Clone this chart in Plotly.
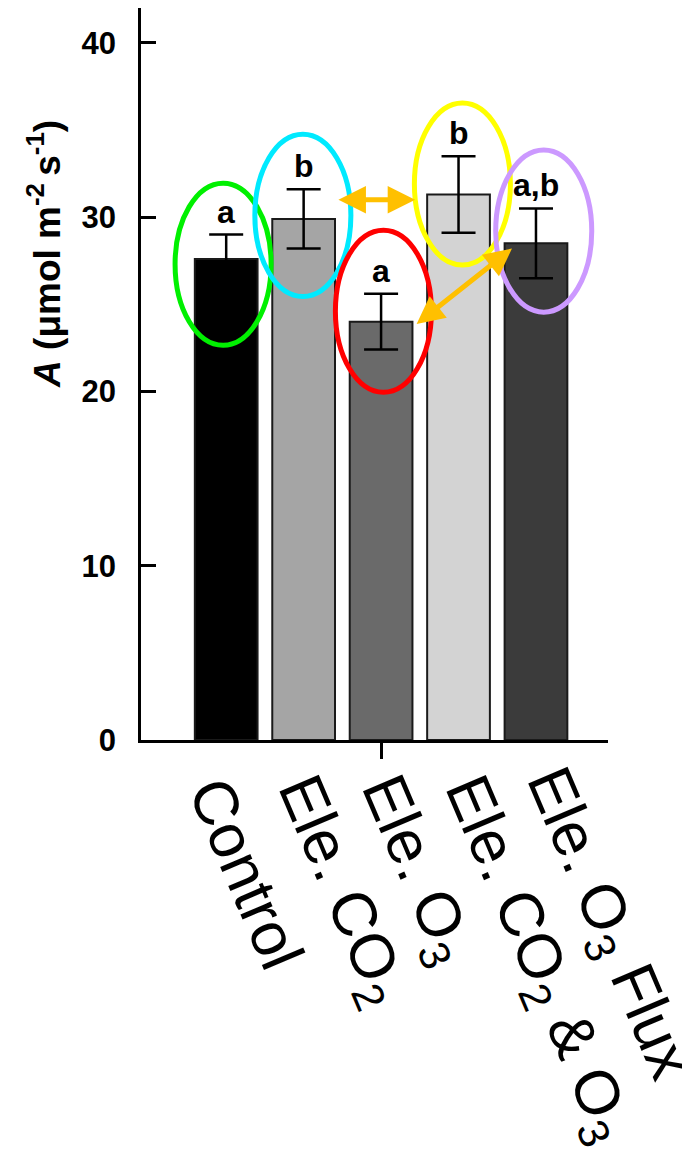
import plotly.graph_objects as go

# ---- data ----
categories = ["Control", "Ele. CO<sub>2</sub>", "Ele. O<sub>3</sub>",
              "Ele. CO<sub>2</sub> & O<sub>3</sub>", "Ele. O<sub>3</sub> Flux"]
values = [27.6, 29.9, 24.0, 31.3, 28.5]
errors = [1.4, 1.7, 1.6, 2.2, 2.0]
letters = ["a", "b", "a", "b", "a,b"]
y_ticks = [0, 10, 20, 30, 40]

# ---- styling / layout ----
bar_colors = ["#000000", "#A5A5A5", "#6A6A6A", "#D3D3D3", "#3B3B3B"]
ring_colors = ["#00F000", "#00EAFF", "#FF0000", "#FFFF00", "#CC99FF"]
ring_dx = [-0.04, -0.01, 0.03, 0.05, 0.10]
ring_dy = [-0.3, 0.2, 0.6, 0.6, 0.7]
ring_rx, ring_ry = 0.62, 4.65
arrow_color = "#FFC000"
label_xshift = [-53, -49, -43, -37, -33]
label_yshift = [-3, 0, 0, 0, 8]

FONT = "Liberation Sans, Arial, sans-serif"
xpos = list(range(len(categories)))

fig = go.Figure()
fig.add_trace(go.Bar(
    x=xpos, y=values, width=0.81,
    marker=dict(color=bar_colors, line=dict(color="#1a1a1a", width=2)),
    error_y=dict(type="data", array=errors, visible=True,
                 color="black", thickness=2.5, width=17),
    showlegend=False,
))

shapes = []
for i, (v, c) in enumerate(zip(values, ring_colors)):
    cx = i + ring_dx[i]
    cy = v + ring_dy[i]
    shapes.append(dict(type="circle", xref="x", yref="y", layer="above",
                       x0=cx - ring_rx, x1=cx + ring_rx,
                       y0=cy - ring_ry, y1=cy + ring_ry,
                       line=dict(color=c, width=5)))

annotations = []
# significance letters
for i, (v, e, t) in enumerate(zip(values, errors, letters)):
    annotations.append(dict(x=i, y=v + e, xref="x", yref="y", text=t,
                            showarrow=False, yanchor="bottom", xanchor="center",
                            yshift=3,
                            font=dict(family=FONT, size=32, color="black", weight="bold")))

# category labels (rotated)
for i, lab in enumerate(categories):
    annotations.append(dict(x=i, y=-0.030, xref="x", yref="paper", text=lab,
                            showarrow=False, textangle=67,
                            xanchor="left", yanchor="top",
                            xshift=label_xshift[i], yshift=label_yshift[i],
                            font=dict(family=FONT, size=62, color="black")))

# y-axis title
annotations.append(dict(x=-0.2056, y=0.664, xref="paper", yref="paper",
                        text="<i>A</i> (μmol m<sup>-2 </sup>s<sup>-1</sup>)",
                        showarrow=False, textangle=-90,
                        xanchor="center", yanchor="middle",
                        font=dict(family=FONT, size=37, color="black", weight="bold")))

# double-headed arrows
arrows = [((1.43, 31.0), (2.44, 31.0)), ((2.44, 23.8), (3.69, 28.2))]
for (x0, y0), (x1, y1) in arrows:
    annotations.append(dict(x=x1, y=y1, ax=x0, ay=y0, xref="x", yref="y",
                            axref="x", ayref="y", text="", showarrow=True,
                            arrowside="end+start", arrowhead=2, startarrowhead=2,
                            arrowsize=1.1, startarrowsize=1.1, arrowwidth=5,
                            arrowcolor=arrow_color, standoff=0, startstandoff=0))

# page body has an 8px default margin; size the figure so it fills 690x1155
fig.update_layout(
    width=682, height=1147, autosize=False,
    margin=dict(l=133, r=82, t=0, b=415, pad=0),
    paper_bgcolor="white", plot_bgcolor="white",
    shapes=shapes, annotations=annotations,
    xaxis=dict(range=[-1.1, 4.93], showgrid=False, zeroline=False,
               showline=True, linecolor="black", linewidth=2.5,
               tickmode="array", tickvals=[2], ticktext=[""],
               ticks="outside", ticklen=16, tickwidth=2.5, tickcolor="black"),
    yaxis=dict(range=[0, 42], showgrid=False, zeroline=False,
               showline=True, linecolor="black", linewidth=2.5,
               tickmode="array", tickvals=y_ticks,
               ticktext=[str(t) for t in y_ticks],
               ticks="inside", ticklen=15, tickwidth=2.5, tickcolor="black",
               ticklabelstandoff=16,
               tickfont=dict(family=FONT, size=31, color="black", weight="bold")),
)

fig.write_html("out.html")
